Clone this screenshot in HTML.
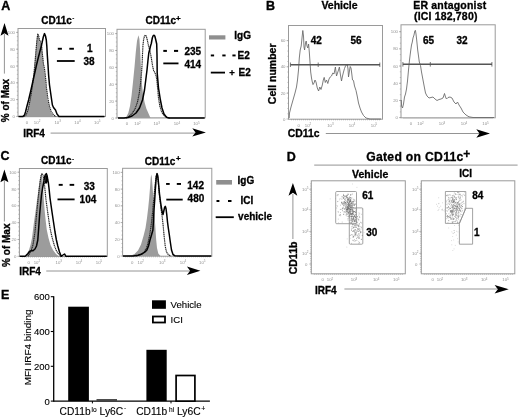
<!DOCTYPE html>
<html><head><meta charset="utf-8"><title>Figure</title>
<style>
html,body{margin:0;padding:0;background:#fff;}
body{width:520px;height:419px;overflow:hidden;}
svg{display:block;font-family:"Liberation Sans", sans-serif;will-change:transform;}
</style></head>
<body>
<svg width="520" height="419" viewBox="0 0 520 419" font-family='"Liberation Sans", sans-serif'>
<rect x="0" y="0" width="520" height="419" fill="#fff"/>
<text x="1.3" y="10.0" font-size="12.5" font-weight="bold" text-anchor="start" fill="#000" stroke="#000" stroke-width="0.35">A</text>
<text x="266.0" y="10.0" font-size="12.5" font-weight="bold" text-anchor="start" fill="#000" stroke="#000" stroke-width="0.35">B</text>
<text x="0.6" y="160.0" font-size="12.5" font-weight="bold" text-anchor="start" fill="#000" stroke="#000" stroke-width="0.35">C</text>
<text x="286.8" y="161.0" font-size="12.5" font-weight="bold" text-anchor="start" fill="#000" stroke="#000" stroke-width="0.35">D</text>
<text x="1.0" y="299.0" font-size="12.5" font-weight="bold" text-anchor="start" fill="#000" stroke="#000" stroke-width="0.35">E</text>
<rect x="18" y="28.5" width="87.5" height="88.0" fill="none" stroke="#9a9a9a" stroke-width="1" />
<line x1="16" y1="116.4" x2="18" y2="116.4" stroke="#909090" stroke-width="0.6" />
<text x="15" y="117.9" font-size="4.3" font-weight="normal" text-anchor="end" fill="#909090" >0</text>
<line x1="16" y1="99.60000000000001" x2="18" y2="99.60000000000001" stroke="#909090" stroke-width="0.6" />
<text x="15" y="101.10000000000001" font-size="4.3" font-weight="normal" text-anchor="end" fill="#909090" >20</text>
<line x1="16" y1="82.80000000000001" x2="18" y2="82.80000000000001" stroke="#909090" stroke-width="0.6" />
<text x="15" y="84.30000000000001" font-size="4.3" font-weight="normal" text-anchor="end" fill="#909090" >40</text>
<line x1="16" y1="66.0" x2="18" y2="66.0" stroke="#909090" stroke-width="0.6" />
<text x="15" y="67.5" font-size="4.3" font-weight="normal" text-anchor="end" fill="#909090" >60</text>
<line x1="16" y1="49.2" x2="18" y2="49.2" stroke="#909090" stroke-width="0.6" />
<text x="15" y="50.7" font-size="4.3" font-weight="normal" text-anchor="end" fill="#909090" >80</text>
<line x1="16" y1="32.400000000000006" x2="18" y2="32.400000000000006" stroke="#909090" stroke-width="0.6" />
<text x="15" y="33.900000000000006" font-size="4.3" font-weight="normal" text-anchor="end" fill="#909090" >100</text>
<path d="M18,32.4h-1.2M18,36.6h-1.2M18,40.8h-1.2M18,45.0h-1.2M18,49.2h-1.2M18,53.4h-1.2M18,57.6h-1.2M18,61.8h-1.2M18,66.0h-1.2M18,70.2h-1.2M18,74.4h-1.2M18,78.6h-1.2M18,82.8h-1.2M18,87.0h-1.2M18,91.2h-1.2M18,95.4h-1.2M18,99.6h-1.2M18,103.8h-1.2M18,108.0h-1.2M18,112.2h-1.2" stroke="#909090" stroke-width="0.5"/>
<text x="26.9" y="124.0" font-size="4.3" font-weight="normal" text-anchor="middle" fill="#909090" >0</text>
<text x="37.1" y="124.0" font-size="4.3" fill="#909090" text-anchor="middle">10<tspan dy="-1.6" font-size="3.01">2</tspan></text>
<text x="57.7" y="124.0" font-size="4.3" fill="#909090" text-anchor="middle">10<tspan dy="-1.6" font-size="3.01">3</tspan></text>
<text x="77.5" y="124.0" font-size="4.3" fill="#909090" text-anchor="middle">10<tspan dy="-1.6" font-size="3.01">4</tspan></text>
<text x="97.3" y="124.0" font-size="4.3" fill="#909090" text-anchor="middle">10<tspan dy="-1.6" font-size="3.01">5</tspan></text>
<path d="M21.0,116.5v1.2M23.0,116.5v1.2M25.0,116.5v1.2M27.0,116.5v1.2M29.0,116.5v1.2M31.0,116.5v1.2M33.0,116.5v1.2M35.0,116.5v1.2M37.0,116.5v1.2M39.0,116.5v1.2M41.0,116.5v1.2M43.0,116.5v1.2M45.0,116.5v1.2M47.0,116.5v1.2M49.0,116.5v1.2M51.0,116.5v1.2M53.0,116.5v1.2M55.0,116.5v1.2M57.0,116.5v1.2M59.0,116.5v1.2M61.0,116.5v1.2M63.0,116.5v1.2M65.0,116.5v1.2M67.0,116.5v1.2M69.0,116.5v1.2M71.0,116.5v1.2M73.0,116.5v1.2M75.0,116.5v1.2M77.0,116.5v1.2M79.0,116.5v1.2M81.0,116.5v1.2M83.0,116.5v1.2M85.0,116.5v1.2M87.0,116.5v1.2M89.0,116.5v1.2M91.0,116.5v1.2M93.0,116.5v1.2M95.0,116.5v1.2M97.0,116.5v1.2M99.0,116.5v1.2M101.0,116.5v1.2M103.0,116.5v1.2" stroke="#909090" stroke-width="0.5"/>
<polygon points="22,116.4 25,115.5 27,112 28.5,106 30,99 31.5,90 33,80 34.2,70 35.2,58 36,48 36.8,40 37.7,33.6 38.6,36 39.4,40 40.2,44 41.0,42.5 41.8,48 42.6,58 43.5,66 44.5,72 45.3,80 46.3,90 47.5,100 49,107 51,112.5 53,115.5 55,116.4" fill="#9c9c9c" stroke="none" stroke-width="1" />
<polyline points="24,116.4 26,115 28,110 29.5,103 31,95 32.5,85 34,73 35.2,60 36.2,48 37,39 37.8,34 38.6,35.5 39.5,40 40.5,41.5 41.5,45 42.5,55 43.5,64 44.7,70 45.6,78 46.5,88 47.8,98 49.3,106 51.2,111.5 53.5,115 56,116.4" fill="none" stroke="#222" stroke-width="1.15" stroke-linejoin="round" stroke-dasharray="1.3,0.55"/>
<polyline points="18.5,116.4 23,116.4 24.5,115 25.5,112 27,106 28.6,100 30.5,92 32.5,83 34.5,74 36.5,65 38.2,58 39.5,53 40.8,48 42,43 43.3,37 44.5,33.6 45.5,36 46.3,40 46.8,46 47.3,55 48,65 48.6,75 49.5,85 50.5,92 51.5,99 52.4,105 53.5,107.5 55.5,110 57,114 59,116.4 104.5,116.4" fill="none" stroke="#000" stroke-width="1.5" stroke-linejoin="round" />
<rect x="57.8" y="47.8" width="4.1" height="1.9" fill="#000" stroke="none" stroke-width="1" />
<rect x="69.3" y="47.8" width="4.6" height="1.9" fill="#000" stroke="none" stroke-width="1" />
<text x="92.5" y="51.5" font-size="10" font-weight="bold" text-anchor="end" fill="#000"  stroke="#000" stroke-width="0.3">1</text>
<line x1="56.9" y1="61" x2="74.7" y2="61" stroke="#000" stroke-width="1.8" />
<text x="94.5" y="65.2" font-size="10" font-weight="bold" text-anchor="end" fill="#000"  stroke="#000" stroke-width="0.3">38</text>
<text x="41.2" y="23.5" font-size="10" font-weight="bold" text-anchor="start" fill="#000"  stroke="#000" stroke-width="0.3">CD11c</text>
<text x="72.6" y="19.8" font-size="5" font-weight="bold" text-anchor="start" fill="#000"  stroke="#000" stroke-width="0.3">-</text>
<rect x="117.0" y="29.3" width="88.19999999999999" height="88.5" fill="none" stroke="#9a9a9a" stroke-width="1" />
<line x1="115.0" y1="118.0" x2="117.0" y2="118.0" stroke="#909090" stroke-width="0.6" />
<text x="114.0" y="119.5" font-size="4.3" font-weight="normal" text-anchor="end" fill="#909090" >0</text>
<line x1="115.0" y1="101.12" x2="117.0" y2="101.12" stroke="#909090" stroke-width="0.6" />
<text x="114.0" y="102.62" font-size="4.3" font-weight="normal" text-anchor="end" fill="#909090" >20</text>
<line x1="115.0" y1="84.24" x2="117.0" y2="84.24" stroke="#909090" stroke-width="0.6" />
<text x="114.0" y="85.74" font-size="4.3" font-weight="normal" text-anchor="end" fill="#909090" >40</text>
<line x1="115.0" y1="67.36" x2="117.0" y2="67.36" stroke="#909090" stroke-width="0.6" />
<text x="114.0" y="68.86" font-size="4.3" font-weight="normal" text-anchor="end" fill="#909090" >60</text>
<line x1="115.0" y1="50.47999999999999" x2="117.0" y2="50.47999999999999" stroke="#909090" stroke-width="0.6" />
<text x="114.0" y="51.97999999999999" font-size="4.3" font-weight="normal" text-anchor="end" fill="#909090" >80</text>
<line x1="115.0" y1="33.599999999999994" x2="117.0" y2="33.599999999999994" stroke="#909090" stroke-width="0.6" />
<text x="114.0" y="35.099999999999994" font-size="4.3" font-weight="normal" text-anchor="end" fill="#909090" >100</text>
<path d="M117.0,33.6h-1.2M117.0,37.8h-1.2M117.0,42.0h-1.2M117.0,46.3h-1.2M117.0,50.5h-1.2M117.0,54.7h-1.2M117.0,58.9h-1.2M117.0,63.1h-1.2M117.0,67.4h-1.2M117.0,71.6h-1.2M117.0,75.8h-1.2M117.0,80.0h-1.2M117.0,84.2h-1.2M117.0,88.5h-1.2M117.0,92.7h-1.2M117.0,96.9h-1.2M117.0,101.1h-1.2M117.0,105.3h-1.2M117.0,109.6h-1.2M117.0,113.8h-1.2M117.0,118.0h-1.2" stroke="#909090" stroke-width="0.5"/>
<text x="127" y="125.3" font-size="4.3" font-weight="normal" text-anchor="middle" fill="#909090" >0</text>
<text x="137.5" y="125.3" font-size="4.3" fill="#909090" text-anchor="middle">10<tspan dy="-1.6" font-size="3.01">2</tspan></text>
<text x="156.7" y="125.3" font-size="4.3" fill="#909090" text-anchor="middle">10<tspan dy="-1.6" font-size="3.01">3</tspan></text>
<text x="176.9" y="125.3" font-size="4.3" fill="#909090" text-anchor="middle">10<tspan dy="-1.6" font-size="3.01">4</tspan></text>
<text x="196.4" y="125.3" font-size="4.3" fill="#909090" text-anchor="middle">10<tspan dy="-1.6" font-size="3.01">5</tspan></text>
<path d="M120.0,117.8v1.2M122.0,117.8v1.2M124.0,117.8v1.2M126.0,117.8v1.2M128.0,117.8v1.2M130.0,117.8v1.2M132.0,117.8v1.2M134.0,117.8v1.2M136.0,117.8v1.2M138.0,117.8v1.2M140.0,117.8v1.2M142.0,117.8v1.2M144.0,117.8v1.2M146.0,117.8v1.2M148.0,117.8v1.2M150.0,117.8v1.2M152.0,117.8v1.2M154.0,117.8v1.2M156.0,117.8v1.2M158.0,117.8v1.2M160.0,117.8v1.2M162.0,117.8v1.2M164.0,117.8v1.2M166.0,117.8v1.2M168.0,117.8v1.2M170.0,117.8v1.2M172.0,117.8v1.2M174.0,117.8v1.2M176.0,117.8v1.2M178.0,117.8v1.2M180.0,117.8v1.2M182.0,117.8v1.2M184.0,117.8v1.2M186.0,117.8v1.2M188.0,117.8v1.2M190.0,117.8v1.2M192.0,117.8v1.2M194.0,117.8v1.2M196.0,117.8v1.2M198.0,117.8v1.2M200.0,117.8v1.2M202.0,117.8v1.2" stroke="#909090" stroke-width="0.5"/>
<polygon points="124,118.0 126.5,116.5 128.3,113 130,106 131.5,96 133,82 134.5,67 135.8,52 137,41 138.4,35.2 139.4,39 140.1,50 140.7,62 141.2,74 141.9,84 143,94 144.5,102 146.3,108.5 148.3,113 150.5,118.0" fill="#9c9c9c" stroke="none" stroke-width="1" />
<polyline points="126,118.0 129,116.5 132,113.5 135,109 137.5,102 139.3,93 140.6,83 141.6,72 142.2,62 142.6,52 143,45 143.6,39.5 144.5,36 145.4,35 146.4,36.5 147.3,40 148.2,44.5 149.3,48.5 150.4,53 151.5,59 152.6,66 153.6,70.5 154.8,72.5 156,75.5 156.9,80 157.6,88 158.5,98 159.8,106 161.5,111.5 163.5,115 167,117.5 170,118.0" fill="none" stroke="#222" stroke-width="1.15" stroke-linejoin="round" stroke-dasharray="1.3,0.55"/>
<polyline points="118,118.0 124,118.0 128,117.5 132,116 136,113 139.5,108 142.5,100 144.5,90 146,78 147,70 148,60 148.8,53 149.7,49.5 150.5,46 151.3,43.5 152.3,38 153,36 153.8,35.2 154.8,36 155.8,40 156.7,44 157,55 157.2,73 158.5,88 160.4,100 162,108 164,114 166.5,117.3 169,118.0 204.7,118.0" fill="none" stroke="#000" stroke-width="1.5" stroke-linejoin="round" />
<rect x="163.3" y="49.9" width="3.6" height="2.0" fill="#000" stroke="none" stroke-width="1" />
<rect x="174.0" y="49.9" width="4.1" height="2.0" fill="#000" stroke="none" stroke-width="1" />
<text x="201.2" y="54.6" font-size="10" font-weight="bold" text-anchor="end" fill="#000"  stroke="#000" stroke-width="0.3">235</text>
<line x1="163.3" y1="63.4" x2="178.5" y2="63.4" stroke="#000" stroke-width="1.8" />
<text x="201.2" y="67.7" font-size="10" font-weight="bold" text-anchor="end" fill="#000"  stroke="#000" stroke-width="0.3">414</text>
<text x="145.5" y="23.5" font-size="10" font-weight="bold" text-anchor="start" fill="#000"  stroke="#000" stroke-width="0.3">CD11c</text>
<text x="176.1" y="20.9" font-size="8" font-weight="bold" text-anchor="start" fill="#000"  stroke="#000" stroke-width="0.3">+</text>
<rect x="209" y="35.3" width="16.4" height="4.2" fill="#8f8f8f" stroke="none" stroke-width="1" />
<text x="234.3" y="39.2" font-size="10" font-weight="bold" text-anchor="start" fill="#000"  stroke="#000" stroke-width="0.3">IgG</text>
<rect x="210.8" y="54.5" width="3.3" height="1.9" fill="#000" stroke="none" stroke-width="1" />
<rect x="222.3" y="54.5" width="3.3" height="1.9" fill="#000" stroke="none" stroke-width="1" />
<rect x="232.4" y="54.5" width="3.2" height="1.9" fill="#000" stroke="none" stroke-width="1" />
<text x="237.5" y="58.8" font-size="10" font-weight="bold" text-anchor="start" fill="#000"  stroke="#000" stroke-width="0.3">E2</text>
<line x1="210.8" y1="72.6" x2="225" y2="72.6" stroke="#000" stroke-width="1.8" />
<text x="229.2" y="76.2" font-size="9.5" font-weight="bold" text-anchor="start" fill="#000"  stroke="#000" stroke-width="0.3">+</text>
<text x="238.6" y="76.2" font-size="10" font-weight="bold" text-anchor="start" fill="#000"  stroke="#000" stroke-width="0.3">E2</text>
<polygon points="4.5,22.9 0.5,35.8 4.5,33.199999999999996 8.5,35.8" fill="#000" stroke="none" stroke-width="1" />
<line x1="4.4" y1="34" x2="4.4" y2="73.6" stroke="#888" stroke-width="0.9" />
<text x="0" y="0" font-size="10" font-weight="bold" text-anchor="start" fill="#000" transform="translate(9.3,122.2) rotate(-90)" stroke="#000" stroke-width="0.3">% of Max</text>
<text x="23.2" y="137.0" font-size="10" font-weight="bold" text-anchor="start" fill="#000"  stroke="#000" stroke-width="0.3">IRF4</text>
<line x1="50.6" y1="133.1" x2="195" y2="133.1" stroke="#888" stroke-width="0.9" />
<polygon points="205.9,132.4 192.3,128.3 195.5,132.4 192.3,136.5" fill="#000" stroke="none" stroke-width="1" />
<rect x="288.5" y="25.5" width="94.0" height="93.7" fill="none" stroke="#9a9a9a" stroke-width="1" />
<line x1="286.5" y1="119.0" x2="288.5" y2="119.0" stroke="#909090" stroke-width="0.6" />
<text x="285.5" y="120.5" font-size="4.3" font-weight="normal" text-anchor="end" fill="#909090" >0</text>
<line x1="286.5" y1="93.2" x2="288.5" y2="93.2" stroke="#909090" stroke-width="0.6" />
<text x="285.5" y="94.7" font-size="4.3" font-weight="normal" text-anchor="end" fill="#909090" >20</text>
<line x1="286.5" y1="66.8" x2="288.5" y2="66.8" stroke="#909090" stroke-width="0.6" />
<text x="285.5" y="68.3" font-size="4.3" font-weight="normal" text-anchor="end" fill="#909090" >40</text>
<line x1="286.5" y1="40.6" x2="288.5" y2="40.6" stroke="#909090" stroke-width="0.6" />
<text x="285.5" y="42.1" font-size="4.3" font-weight="normal" text-anchor="end" fill="#909090" >60</text>
<path d="M288.5,40.6h-1.2M288.5,45.8h-1.2M288.5,51.1h-1.2M288.5,56.3h-1.2M288.5,61.5h-1.2M288.5,66.7h-1.2M288.5,72.0h-1.2M288.5,77.2h-1.2M288.5,82.4h-1.2M288.5,87.6h-1.2M288.5,92.9h-1.2M288.5,98.1h-1.2M288.5,103.3h-1.2M288.5,108.5h-1.2M288.5,113.8h-1.2" stroke="#909090" stroke-width="0.5"/>
<text x="298.8" y="126.7" font-size="4.3" font-weight="normal" text-anchor="middle" fill="#909090" >0</text>
<text x="308" y="126.7" font-size="4.3" fill="#909090" text-anchor="middle">10<tspan dy="-1.6" font-size="3.01">2</tspan></text>
<text x="330.4" y="126.7" font-size="4.3" fill="#909090" text-anchor="middle">10<tspan dy="-1.6" font-size="3.01">3</tspan></text>
<text x="352" y="126.7" font-size="4.3" fill="#909090" text-anchor="middle">10<tspan dy="-1.6" font-size="3.01">4</tspan></text>
<text x="374" y="126.7" font-size="4.3" fill="#909090" text-anchor="middle">10<tspan dy="-1.6" font-size="3.01">5</tspan></text>
<path d="M291.5,119.2v1.2M293.5,119.2v1.2M295.5,119.2v1.2M297.5,119.2v1.2M299.5,119.2v1.2M301.5,119.2v1.2M303.5,119.2v1.2M305.5,119.2v1.2M307.5,119.2v1.2M309.5,119.2v1.2M311.5,119.2v1.2M313.5,119.2v1.2M315.5,119.2v1.2M317.5,119.2v1.2M319.5,119.2v1.2M321.5,119.2v1.2M323.5,119.2v1.2M325.5,119.2v1.2M327.5,119.2v1.2M329.5,119.2v1.2M331.5,119.2v1.2M333.5,119.2v1.2M335.5,119.2v1.2M337.5,119.2v1.2M339.5,119.2v1.2M341.5,119.2v1.2M343.5,119.2v1.2M345.5,119.2v1.2M347.5,119.2v1.2M349.5,119.2v1.2M351.5,119.2v1.2M353.5,119.2v1.2M355.5,119.2v1.2M357.5,119.2v1.2M359.5,119.2v1.2M361.5,119.2v1.2M363.5,119.2v1.2M365.5,119.2v1.2M367.5,119.2v1.2M369.5,119.2v1.2M371.5,119.2v1.2M373.5,119.2v1.2M375.5,119.2v1.2M377.5,119.2v1.2M379.5,119.2v1.2" stroke="#909090" stroke-width="0.5"/>
<polyline points="289.2,118 289.5,113 291,107 293,100 295,93 296.5,87 297.5,80 298.5,70 299.3,58 300.2,50 301.2,46 302,38 302.8,30.5 303.5,36 304,47 304.6,50 305.5,43 306.2,41 307,46 307.8,48 308.6,44 309.3,52 310,62 310.7,72 311.5,78 312.3,82 313,84.6 314,83 315,80 316,82 317.3,88 318.6,91 319.8,87 321,89.5 322.3,85 323.3,80 324.2,77.4 325.3,82.5 326.5,80 327.8,83.5 329,79 330.2,77 331.5,76 332.8,73 334,74 335.4,67 336.5,76 337.5,73 338.5,70 339.4,67 340.3,74 341.5,81 342.5,76 343.5,72 344.5,68.5 345.5,66 346.5,64.8 347.3,64.5 348,69 348.5,77 349.3,72 350.2,66.5 351,68 351.8,74 352.5,80 353.5,80.5 354.5,86 356,90.5 357.2,96 358.5,103 360,108 361.5,112 363.5,115.5 366,118 370,119 381,119" fill="none" stroke="#666" stroke-width="0.85" stroke-linejoin="round" />
<line x1="290.4" y1="64.8" x2="380" y2="64.8" stroke="#555" stroke-width="1.6" />
<line x1="290.4" y1="62.5" x2="290.4" y2="67" stroke="#555" stroke-width="0.8" />
<line x1="318.2" y1="62.5" x2="318.2" y2="67" stroke="#555" stroke-width="0.8" />
<line x1="379.8" y1="62.5" x2="379.8" y2="67" stroke="#555" stroke-width="0.8" />
<text x="321.9" y="43.9" font-size="10" font-weight="bold" text-anchor="end" fill="#000"  stroke="#000" stroke-width="0.3">42</text>
<text x="361.6" y="44.0" font-size="10" font-weight="bold" text-anchor="end" fill="#000"  stroke="#000" stroke-width="0.3">56</text>
<text x="339.5" y="9" font-size="10.5" font-weight="bold" text-anchor="middle" fill="#000"  stroke="#000" stroke-width="0.3">Vehicle</text>
<rect x="401" y="24.8" width="94.19999999999999" height="93.0" fill="none" stroke="#9a9a9a" stroke-width="1" />
<line x1="399" y1="117.6" x2="401" y2="117.6" stroke="#909090" stroke-width="0.6" />
<text x="398" y="119.1" font-size="4.3" font-weight="normal" text-anchor="end" fill="#909090" >0</text>
<line x1="399" y1="100.5" x2="401" y2="100.5" stroke="#909090" stroke-width="0.6" />
<text x="398" y="102.0" font-size="4.3" font-weight="normal" text-anchor="end" fill="#909090" >20</text>
<line x1="399" y1="83.3" x2="401" y2="83.3" stroke="#909090" stroke-width="0.6" />
<text x="398" y="84.8" font-size="4.3" font-weight="normal" text-anchor="end" fill="#909090" >40</text>
<line x1="399" y1="66.0" x2="401" y2="66.0" stroke="#909090" stroke-width="0.6" />
<text x="398" y="67.5" font-size="4.3" font-weight="normal" text-anchor="end" fill="#909090" >60</text>
<line x1="399" y1="48.8" x2="401" y2="48.8" stroke="#909090" stroke-width="0.6" />
<text x="398" y="50.3" font-size="4.3" font-weight="normal" text-anchor="end" fill="#909090" >80</text>
<line x1="399" y1="31.7" x2="401" y2="31.7" stroke="#909090" stroke-width="0.6" />
<text x="398" y="33.2" font-size="4.3" font-weight="normal" text-anchor="end" fill="#909090" >100</text>
<path d="M401,31.7h-1.2M401,37.4h-1.2M401,43.2h-1.2M401,48.9h-1.2M401,54.6h-1.2M401,60.3h-1.2M401,66.1h-1.2M401,71.8h-1.2M401,77.5h-1.2M401,83.2h-1.2M401,89.0h-1.2M401,94.7h-1.2M401,100.4h-1.2M401,106.1h-1.2M401,111.9h-1.2M401,117.6h-1.2" stroke="#909090" stroke-width="0.5"/>
<text x="411" y="125.3" font-size="4.3" font-weight="normal" text-anchor="middle" fill="#909090" >0</text>
<text x="420.5" y="125.3" font-size="4.3" fill="#909090" text-anchor="middle">10<tspan dy="-1.6" font-size="3.01">2</tspan></text>
<text x="442" y="125.3" font-size="4.3" fill="#909090" text-anchor="middle">10<tspan dy="-1.6" font-size="3.01">3</tspan></text>
<text x="464" y="125.3" font-size="4.3" fill="#909090" text-anchor="middle">10<tspan dy="-1.6" font-size="3.01">4</tspan></text>
<text x="485.5" y="125.3" font-size="4.3" fill="#909090" text-anchor="middle">10<tspan dy="-1.6" font-size="3.01">5</tspan></text>
<path d="M404.0,117.8v1.2M406.0,117.8v1.2M408.0,117.8v1.2M410.0,117.8v1.2M412.0,117.8v1.2M414.0,117.8v1.2M416.0,117.8v1.2M418.0,117.8v1.2M420.0,117.8v1.2M422.0,117.8v1.2M424.0,117.8v1.2M426.0,117.8v1.2M428.0,117.8v1.2M430.0,117.8v1.2M432.0,117.8v1.2M434.0,117.8v1.2M436.0,117.8v1.2M438.0,117.8v1.2M440.0,117.8v1.2M442.0,117.8v1.2M444.0,117.8v1.2M446.0,117.8v1.2M448.0,117.8v1.2M450.0,117.8v1.2M452.0,117.8v1.2M454.0,117.8v1.2M456.0,117.8v1.2M458.0,117.8v1.2M460.0,117.8v1.2M462.0,117.8v1.2M464.0,117.8v1.2M466.0,117.8v1.2M468.0,117.8v1.2M470.0,117.8v1.2M472.0,117.8v1.2M474.0,117.8v1.2M476.0,117.8v1.2M478.0,117.8v1.2M480.0,117.8v1.2M482.0,117.8v1.2M484.0,117.8v1.2M486.0,117.8v1.2M488.0,117.8v1.2M490.0,117.8v1.2M492.0,117.8v1.2" stroke="#909090" stroke-width="0.5"/>
<polyline points="401.3,100 401.6,106 402.5,108 403.5,104 404.5,97 405.5,94 406.5,89 407.5,81 408.5,70 409.5,60 410.5,52 411.5,45 412.3,42 413,38 414,35 414.8,31 415.4,30.3 416,34 416.7,40 417.7,50 418.5,56 419.3,62 420.5,65.5 421.5,72 423,80 424.5,88 425.5,93 427,96 429,98 431,97.5 433,97 435,99 437,100.5 439,99.5 441,99 443,98 444.5,93.5 445.5,97 446.5,99 448,97.5 450,97 452,98 454,102 456,104 457.5,102 459,105 461,108 463,112 466,115 469,116.8 473,117.5 494,117.5" fill="none" stroke="#666" stroke-width="0.85" stroke-linejoin="round" />
<line x1="402.9" y1="64.3" x2="492" y2="64.3" stroke="#555" stroke-width="1.6" />
<line x1="402.9" y1="62" x2="402.9" y2="66.6" stroke="#555" stroke-width="0.8" />
<line x1="430.3" y1="62" x2="430.3" y2="66.6" stroke="#555" stroke-width="0.8" />
<line x1="491.9" y1="62" x2="491.9" y2="66.6" stroke="#555" stroke-width="0.8" />
<text x="434.2" y="43.9" font-size="10" font-weight="bold" text-anchor="end" fill="#000"  stroke="#000" stroke-width="0.3">65</text>
<text x="467.5" y="44.0" font-size="10" font-weight="bold" text-anchor="end" fill="#000"  stroke="#000" stroke-width="0.3">32</text>
<text x="413.2" y="9" font-size="10.5" font-weight="bold" text-anchor="start" fill="#000" textLength="73" lengthAdjust="spacing" stroke="#000" stroke-width="0.3">ER antagonist</text>
<text x="414.0" y="20.2" font-size="10.5" font-weight="bold" text-anchor="start" fill="#000" textLength="63.4" lengthAdjust="spacing" stroke="#000" stroke-width="0.3">(ICI 182,780)</text>
<text x="0" y="0" font-size="10.5" font-weight="bold" text-anchor="start" fill="#000" transform="translate(275.5,104.2) rotate(-90)" stroke="#000" stroke-width="0.3">Cell number</text>
<text x="287.8" y="137.4" font-size="10.4" font-weight="bold" text-anchor="start" fill="#000"  stroke="#000" stroke-width="0.3">CD11c</text>
<line x1="325.8" y1="133.5" x2="480" y2="133.5" stroke="#888" stroke-width="0.9" />
<polygon points="490,133.5 476.3,129.2 479.5,133.5 476.3,137.8" fill="#000" stroke="none" stroke-width="1" />
<rect x="19.4" y="168.5" width="87.9" height="88.0" fill="none" stroke="#9a9a9a" stroke-width="1" />
<line x1="17.4" y1="256.3" x2="19.4" y2="256.3" stroke="#909090" stroke-width="0.6" />
<text x="16.4" y="257.8" font-size="4.3" font-weight="normal" text-anchor="end" fill="#909090" >0</text>
<line x1="17.4" y1="239.48000000000002" x2="19.4" y2="239.48000000000002" stroke="#909090" stroke-width="0.6" />
<text x="16.4" y="240.98000000000002" font-size="4.3" font-weight="normal" text-anchor="end" fill="#909090" >20</text>
<line x1="17.4" y1="222.66" x2="19.4" y2="222.66" stroke="#909090" stroke-width="0.6" />
<text x="16.4" y="224.16" font-size="4.3" font-weight="normal" text-anchor="end" fill="#909090" >40</text>
<line x1="17.4" y1="205.84" x2="19.4" y2="205.84" stroke="#909090" stroke-width="0.6" />
<text x="16.4" y="207.34" font-size="4.3" font-weight="normal" text-anchor="end" fill="#909090" >60</text>
<line x1="17.4" y1="189.01999999999998" x2="19.4" y2="189.01999999999998" stroke="#909090" stroke-width="0.6" />
<text x="16.4" y="190.51999999999998" font-size="4.3" font-weight="normal" text-anchor="end" fill="#909090" >80</text>
<line x1="17.4" y1="172.2" x2="19.4" y2="172.2" stroke="#909090" stroke-width="0.6" />
<text x="16.4" y="173.7" font-size="4.3" font-weight="normal" text-anchor="end" fill="#909090" >100</text>
<path d="M19.4,172.2h-1.2M19.4,176.4h-1.2M19.4,180.6h-1.2M19.4,184.8h-1.2M19.4,189.0h-1.2M19.4,193.2h-1.2M19.4,197.4h-1.2M19.4,201.6h-1.2M19.4,205.8h-1.2M19.4,210.0h-1.2M19.4,214.3h-1.2M19.4,218.5h-1.2M19.4,222.7h-1.2M19.4,226.9h-1.2M19.4,231.1h-1.2M19.4,235.3h-1.2M19.4,239.5h-1.2M19.4,243.7h-1.2M19.4,247.9h-1.2M19.4,252.1h-1.2" stroke="#909090" stroke-width="0.5"/>
<text x="28.75" y="264.0" font-size="4.3" font-weight="normal" text-anchor="middle" fill="#909090" >0</text>
<text x="36.9" y="264.0" font-size="4.3" fill="#909090" text-anchor="middle">10<tspan dy="-1.6" font-size="3.01">2</tspan></text>
<text x="58.75" y="264.0" font-size="4.3" fill="#909090" text-anchor="middle">10<tspan dy="-1.6" font-size="3.01">3</tspan></text>
<text x="79" y="264.0" font-size="4.3" fill="#909090" text-anchor="middle">10<tspan dy="-1.6" font-size="3.01">4</tspan></text>
<text x="99" y="264.0" font-size="4.3" fill="#909090" text-anchor="middle">10<tspan dy="-1.6" font-size="3.01">5</tspan></text>
<path d="M22.4,256.5v1.2M24.4,256.5v1.2M26.4,256.5v1.2M28.4,256.5v1.2M30.4,256.5v1.2M32.4,256.5v1.2M34.4,256.5v1.2M36.4,256.5v1.2M38.4,256.5v1.2M40.4,256.5v1.2M42.4,256.5v1.2M44.4,256.5v1.2M46.4,256.5v1.2M48.4,256.5v1.2M50.4,256.5v1.2M52.4,256.5v1.2M54.4,256.5v1.2M56.4,256.5v1.2M58.4,256.5v1.2M60.4,256.5v1.2M62.4,256.5v1.2M64.4,256.5v1.2M66.4,256.5v1.2M68.4,256.5v1.2M70.4,256.5v1.2M72.4,256.5v1.2M74.4,256.5v1.2M76.4,256.5v1.2M78.4,256.5v1.2M80.4,256.5v1.2M82.4,256.5v1.2M84.4,256.5v1.2M86.4,256.5v1.2M88.4,256.5v1.2M90.4,256.5v1.2M92.4,256.5v1.2M94.4,256.5v1.2M96.4,256.5v1.2M98.4,256.5v1.2M100.4,256.5v1.2M102.4,256.5v1.2M104.4,256.5v1.2" stroke="#909090" stroke-width="0.5"/>
<polygon points="24.5,256.3 27,254 29,250 30.5,245 32,238 33,230 34,222 35,215 36,208 37,200 38,193 39,186 40,180 40.8,176 41.5,173.6 42.2,176 42.7,182 43.2,190 43.8,200 44.6,210 45.6,220 46.8,230 48.5,238 50.5,245 53,250 56,254 59,256.3" fill="#9c9c9c" stroke="none" stroke-width="1" />
<polyline points="28,256.3 31,251 33,245 35,232 36.5,215 38,200 39.3,188 40.3,180 41.2,175 42.1,173.4 43,175 44,180 45,190 46,200 47.4,210 48.8,220 50,228 51.5,235 52.8,240 54.5,246 56.5,251 58.5,254 61,256.3" fill="none" stroke="#222" stroke-width="1.15" stroke-linejoin="round" stroke-dasharray="1.3,0.55"/>
<polyline points="19.8,256.3 25,256.3 26,255.5 28,253.5 29.5,251.5 31.3,250.6 33,250.8 35,249 36.5,246 37.8,240 38.7,228 39.6,215 40.5,205 41.5,195 42.6,188 43.6,183 44.4,178 45.2,175 46.3,173.6 47.2,176 47.8,180 48.4,183 49.2,190 50,198 51,205 52,212 53.5,222 55,232 56.4,240 57.8,246 59.5,252 61.2,256.3 63,255 64.5,254 66,256.3 106.8,256.3" fill="none" stroke="#000" stroke-width="1.5" stroke-linejoin="round" />
<polyline points="45.3,176 46.3,176 47.2,181 46,183 45,182" fill="#000" stroke="#000" stroke-width="1.5" stroke-linejoin="round" />
<rect x="58.7" y="183.9" width="4.0" height="1.9" fill="#000" stroke="none" stroke-width="1" />
<rect x="69.6" y="183.9" width="4.6" height="1.9" fill="#000" stroke="none" stroke-width="1" />
<text x="94.9" y="189.8" font-size="10" font-weight="bold" text-anchor="end" fill="#000"  stroke="#000" stroke-width="0.3">33</text>
<line x1="57.5" y1="199.4" x2="74.6" y2="199.4" stroke="#000" stroke-width="1.8" />
<text x="96.3" y="202.5" font-size="10" font-weight="bold" text-anchor="end" fill="#000"  stroke="#000" stroke-width="0.3">104</text>
<text x="41.0" y="164.4" font-size="10" font-weight="bold" text-anchor="start" fill="#000"  stroke="#000" stroke-width="0.3">CD11c</text>
<text x="72.3" y="160.6" font-size="5" font-weight="bold" text-anchor="start" fill="#000"  stroke="#000" stroke-width="0.3">-</text>
<rect x="122.6" y="168.3" width="89.20000000000002" height="87.89999999999998" fill="none" stroke="#9a9a9a" stroke-width="1" />
<line x1="120.6" y1="256.0" x2="122.6" y2="256.0" stroke="#909090" stroke-width="0.6" />
<text x="119.6" y="257.5" font-size="4.3" font-weight="normal" text-anchor="end" fill="#909090" >0</text>
<line x1="120.6" y1="239.28" x2="122.6" y2="239.28" stroke="#909090" stroke-width="0.6" />
<text x="119.6" y="240.78" font-size="4.3" font-weight="normal" text-anchor="end" fill="#909090" >20</text>
<line x1="120.6" y1="222.56" x2="122.6" y2="222.56" stroke="#909090" stroke-width="0.6" />
<text x="119.6" y="224.06" font-size="4.3" font-weight="normal" text-anchor="end" fill="#909090" >40</text>
<line x1="120.6" y1="205.84" x2="122.6" y2="205.84" stroke="#909090" stroke-width="0.6" />
<text x="119.6" y="207.34" font-size="4.3" font-weight="normal" text-anchor="end" fill="#909090" >60</text>
<line x1="120.6" y1="189.12" x2="122.6" y2="189.12" stroke="#909090" stroke-width="0.6" />
<text x="119.6" y="190.62" font-size="4.3" font-weight="normal" text-anchor="end" fill="#909090" >80</text>
<line x1="120.6" y1="172.4" x2="122.6" y2="172.4" stroke="#909090" stroke-width="0.6" />
<text x="119.6" y="173.9" font-size="4.3" font-weight="normal" text-anchor="end" fill="#909090" >100</text>
<path d="M122.6,172.4h-1.2M122.6,176.6h-1.2M122.6,180.8h-1.2M122.6,184.9h-1.2M122.6,189.1h-1.2M122.6,193.3h-1.2M122.6,197.5h-1.2M122.6,201.7h-1.2M122.6,205.8h-1.2M122.6,210.0h-1.2M122.6,214.2h-1.2M122.6,218.4h-1.2M122.6,222.6h-1.2M122.6,226.7h-1.2M122.6,230.9h-1.2M122.6,235.1h-1.2M122.6,239.3h-1.2M122.6,243.5h-1.2M122.6,247.6h-1.2M122.6,251.8h-1.2" stroke="#909090" stroke-width="0.5"/>
<text x="132.1" y="263.7" font-size="4.3" font-weight="normal" text-anchor="middle" fill="#909090" >0</text>
<text x="140.8" y="263.7" font-size="4.3" fill="#909090" text-anchor="middle">10<tspan dy="-1.6" font-size="3.01">2</tspan></text>
<text x="162.3" y="263.7" font-size="4.3" fill="#909090" text-anchor="middle">10<tspan dy="-1.6" font-size="3.01">3</tspan></text>
<text x="183" y="263.7" font-size="4.3" fill="#909090" text-anchor="middle">10<tspan dy="-1.6" font-size="3.01">4</tspan></text>
<text x="202.3" y="263.7" font-size="4.3" fill="#909090" text-anchor="middle">10<tspan dy="-1.6" font-size="3.01">5</tspan></text>
<path d="M125.6,256.2v1.2M127.6,256.2v1.2M129.6,256.2v1.2M131.6,256.2v1.2M133.6,256.2v1.2M135.6,256.2v1.2M137.6,256.2v1.2M139.6,256.2v1.2M141.6,256.2v1.2M143.6,256.2v1.2M145.6,256.2v1.2M147.6,256.2v1.2M149.6,256.2v1.2M151.6,256.2v1.2M153.6,256.2v1.2M155.6,256.2v1.2M157.6,256.2v1.2M159.6,256.2v1.2M161.6,256.2v1.2M163.6,256.2v1.2M165.6,256.2v1.2M167.6,256.2v1.2M169.6,256.2v1.2M171.6,256.2v1.2M173.6,256.2v1.2M175.6,256.2v1.2M177.6,256.2v1.2M179.6,256.2v1.2M181.6,256.2v1.2M183.6,256.2v1.2M185.6,256.2v1.2M187.6,256.2v1.2M189.6,256.2v1.2M191.6,256.2v1.2M193.6,256.2v1.2M195.6,256.2v1.2M197.6,256.2v1.2M199.6,256.2v1.2M201.6,256.2v1.2M203.6,256.2v1.2M205.6,256.2v1.2M207.6,256.2v1.2M209.6,256.2v1.2" stroke="#909090" stroke-width="0.5"/>
<polygon points="126,256.0 131,255.5 134.5,254 138,250.5 141,244.5 143.5,236 145.5,228 147,218 148.2,208 149.2,198 150,188 150.7,178 151.2,174.5 151.8,177 152.5,186 153.2,196 153.9,206 154.6,216 155.4,228 156.2,240 157,248 158.3,253.5 160.5,256.0" fill="#9c9c9c" stroke="none" stroke-width="1" />
<polyline points="136,256.0 141,254.5 144.5,251.5 146.5,248 148,243 149.5,236 150.8,228 151.8,220 152.6,212 153.4,203 154.3,193 155.2,184 156.1,177 156.9,173.6 157.7,177 158.5,185 159.4,195 160.3,203 161.2,210 162.2,217 163.2,226 164.2,237 165.2,246 166.5,252 168.5,255 171,256.0" fill="none" stroke="#222" stroke-width="1.15" stroke-linejoin="round" stroke-dasharray="1.3,0.55"/>
<polyline points="123,256.0 133,256.0 138,255.3 142,254 145,252 146.9,250 148.5,246 150,240 151.5,235 152.9,230 153.5,220 154,210 154.7,200 155.3,190 155.9,182 156.4,176 157.1,173.6 157.8,176 158.6,184 159.5,194 160.4,201 161.3,207 162.2,212 163,214.5 163.8,211 164.6,207.5 165.3,206.3 166,208.5 166.7,214 167.5,222 168.3,228 169.2,234 170.3,242 171.5,250 173,254.5 175,255.8 180,256.0 211.3,256.0" fill="none" stroke="#000" stroke-width="1.5" stroke-linejoin="round" />
<rect x="166.1" y="183.0" width="3.6" height="1.9" fill="#000" stroke="none" stroke-width="1" />
<rect x="176.8" y="183.0" width="4.2" height="1.9" fill="#000" stroke="none" stroke-width="1" />
<text x="204" y="188.5" font-size="10" font-weight="bold" text-anchor="end" fill="#000"  stroke="#000" stroke-width="0.3">142</text>
<line x1="166.3" y1="199.6" x2="182.7" y2="199.6" stroke="#000" stroke-width="1.8" />
<text x="204.3" y="202.3" font-size="10" font-weight="bold" text-anchor="end" fill="#000"  stroke="#000" stroke-width="0.3">480</text>
<text x="144.8" y="164.5" font-size="10" font-weight="bold" text-anchor="start" fill="#000"  stroke="#000" stroke-width="0.3">CD11c</text>
<text x="176.1" y="161.3" font-size="8" font-weight="bold" text-anchor="start" fill="#000"  stroke="#000" stroke-width="0.3">+</text>
<rect x="216.2" y="180.0" width="15.8" height="4.6" fill="#8f8f8f" stroke="none" stroke-width="1" />
<text x="237.5" y="183.8" font-size="10" font-weight="bold" text-anchor="start" fill="#000"  stroke="#000" stroke-width="0.3">IgG</text>
<rect x="216.5" y="200.0" width="2.9" height="2" fill="#000" stroke="none" stroke-width="1" />
<rect x="228" y="200.0" width="3.5" height="2" fill="#000" stroke="none" stroke-width="1" />
<text x="240.5" y="203.8" font-size="10" font-weight="bold" text-anchor="start" fill="#000"  stroke="#000" stroke-width="0.3">ICI</text>
<line x1="215.7" y1="217.2" x2="233.8" y2="217.2" stroke="#000" stroke-width="1.8" />
<text x="238.1" y="219.8" font-size="10" font-weight="bold" text-anchor="start" fill="#000"  stroke="#000" stroke-width="0.3">vehicle</text>
<polygon points="4.4,169.4 0.40000000000000036,182.3 4.4,180.0 8.4,182.3" fill="#000" stroke="none" stroke-width="1" />
<line x1="4.4" y1="180" x2="4.4" y2="221.5" stroke="#888" stroke-width="0.9" />
<text x="0" y="0" font-size="10" font-weight="bold" text-anchor="start" fill="#000" transform="translate(9.5,266.9) rotate(-90)" stroke="#000" stroke-width="0.3">% of Max</text>
<text x="19.2" y="274.8" font-size="10" font-weight="bold" text-anchor="start" fill="#000"  stroke="#000" stroke-width="0.3">IRF4</text>
<line x1="46.25" y1="271.0" x2="190" y2="271.0" stroke="#888" stroke-width="0.9" />
<polygon points="200.4,270.8 186.9,266.5 190.1,270.8 186.9,275.1" fill="#000" stroke="none" stroke-width="1" />
<text x="366.2" y="161.0" font-size="12.2" font-weight="bold" text-anchor="start" fill="#000" textLength="97.2" lengthAdjust="spacing" stroke="#000" stroke-width="0.3">Gated on CD11c</text>
<text x="463.3" y="158.0" font-size="12" font-weight="bold" text-anchor="start" fill="#000"  stroke="#000" stroke-width="0.3">+</text>
<line x1="314.2" y1="165.1" x2="517.6" y2="165.1" stroke="#888" stroke-width="0.9" />
<text x="370.2" y="178.1" font-size="10.5" font-weight="bold" text-anchor="middle" fill="#000"  stroke="#000" stroke-width="0.3">Vehicle</text>
<text x="465.6" y="177.4" font-size="10" font-weight="bold" text-anchor="middle" fill="#000"  stroke="#000" stroke-width="0.3">ICI</text>
<rect x="311.3" y="180.8" width="94.0" height="93.0" fill="none" stroke="#9a9a9a" stroke-width="1" />
<line x1="309.3" y1="189.3" x2="311.3" y2="189.3" stroke="#909090" stroke-width="0.6" />
<text x="305.3" y="190.8" font-size="4.3" fill="#909090" text-anchor="middle">10<tspan dy="-1.6" font-size="3.01">5</tspan></text>
<line x1="309.3" y1="209.7" x2="311.3" y2="209.7" stroke="#909090" stroke-width="0.6" />
<text x="305.3" y="211.2" font-size="4.3" fill="#909090" text-anchor="middle">10<tspan dy="-1.6" font-size="3.01">4</tspan></text>
<line x1="309.3" y1="231.6" x2="311.3" y2="231.6" stroke="#909090" stroke-width="0.6" />
<text x="305.3" y="233.1" font-size="4.3" fill="#909090" text-anchor="middle">10<tspan dy="-1.6" font-size="3.01">3</tspan></text>
<line x1="309.3" y1="253.4" x2="311.3" y2="253.4" stroke="#909090" stroke-width="0.6" />
<text x="305.3" y="254.9" font-size="4.3" fill="#909090" text-anchor="middle">10<tspan dy="-1.6" font-size="3.01">2</tspan></text>
<line x1="309.3" y1="264" x2="311.3" y2="264" stroke="#909090" stroke-width="0.6" />
<text x="307.3" y="265.5" font-size="4.3" font-weight="normal" text-anchor="end" fill="#909090" >0</text>
<path d="M311.3,183.8h-1.2M311.3,186.0h-1.2M311.3,188.2h-1.2M311.3,190.4h-1.2M311.3,192.6h-1.2M311.3,194.8h-1.2M311.3,197.0h-1.2M311.3,199.2h-1.2M311.3,201.4h-1.2M311.3,203.6h-1.2M311.3,205.8h-1.2M311.3,208.0h-1.2M311.3,210.2h-1.2M311.3,212.4h-1.2M311.3,214.6h-1.2M311.3,216.8h-1.2M311.3,219.0h-1.2M311.3,221.2h-1.2M311.3,223.4h-1.2M311.3,225.6h-1.2M311.3,227.8h-1.2M311.3,230.0h-1.2M311.3,232.2h-1.2M311.3,234.4h-1.2M311.3,236.6h-1.2M311.3,238.8h-1.2M311.3,241.0h-1.2M311.3,243.2h-1.2M311.3,245.4h-1.2M311.3,247.6h-1.2M311.3,249.8h-1.2M311.3,252.0h-1.2M311.3,254.2h-1.2M311.3,256.4h-1.2M311.3,258.6h-1.2M311.3,260.8h-1.2M311.3,263.0h-1.2M311.3,265.2h-1.2M311.3,267.4h-1.2M311.3,269.6h-1.2M311.3,271.8h-1.2" stroke="#909090" stroke-width="0.5"/>
<text x="322.6" y="281.3" font-size="4.3" font-weight="normal" text-anchor="middle" fill="#909090" >0</text>
<text x="330" y="281.3" font-size="4.3" fill="#909090" text-anchor="middle">10<tspan dy="-1.6" font-size="3.01">2</tspan></text>
<text x="354" y="281.3" font-size="4.3" fill="#909090" text-anchor="middle">10<tspan dy="-1.6" font-size="3.01">3</tspan></text>
<text x="376.2" y="281.3" font-size="4.3" fill="#909090" text-anchor="middle">10<tspan dy="-1.6" font-size="3.01">4</tspan></text>
<text x="396.3" y="281.3" font-size="4.3" fill="#909090" text-anchor="middle">10<tspan dy="-1.6" font-size="3.01">5</tspan></text>
<path d="M314.3,273.8v1.2M316.3,273.8v1.2M318.3,273.8v1.2M320.3,273.8v1.2M322.3,273.8v1.2M324.3,273.8v1.2M326.3,273.8v1.2M328.3,273.8v1.2M330.3,273.8v1.2M332.3,273.8v1.2M334.3,273.8v1.2M336.3,273.8v1.2M338.3,273.8v1.2M340.3,273.8v1.2M342.3,273.8v1.2M344.3,273.8v1.2M346.3,273.8v1.2M348.3,273.8v1.2M350.3,273.8v1.2M352.3,273.8v1.2M354.3,273.8v1.2M356.3,273.8v1.2M358.3,273.8v1.2M360.3,273.8v1.2M362.3,273.8v1.2M364.3,273.8v1.2M366.3,273.8v1.2M368.3,273.8v1.2M370.3,273.8v1.2M372.3,273.8v1.2M374.3,273.8v1.2M376.3,273.8v1.2M378.3,273.8v1.2M380.3,273.8v1.2M382.3,273.8v1.2M384.3,273.8v1.2M386.3,273.8v1.2M388.3,273.8v1.2M390.3,273.8v1.2M392.3,273.8v1.2M394.3,273.8v1.2M396.3,273.8v1.2M398.3,273.8v1.2M400.3,273.8v1.2M402.3,273.8v1.2" stroke="#909090" stroke-width="0.5"/>
<rect x="421.3" y="180.8" width="93.49999999999994" height="93.0" fill="none" stroke="#9a9a9a" stroke-width="1" />
<line x1="419.3" y1="189.3" x2="421.3" y2="189.3" stroke="#909090" stroke-width="0.6" />
<text x="415.3" y="190.8" font-size="4.3" fill="#909090" text-anchor="middle">10<tspan dy="-1.6" font-size="3.01">5</tspan></text>
<line x1="419.3" y1="209.7" x2="421.3" y2="209.7" stroke="#909090" stroke-width="0.6" />
<text x="415.3" y="211.2" font-size="4.3" fill="#909090" text-anchor="middle">10<tspan dy="-1.6" font-size="3.01">4</tspan></text>
<line x1="419.3" y1="231.6" x2="421.3" y2="231.6" stroke="#909090" stroke-width="0.6" />
<text x="415.3" y="233.1" font-size="4.3" fill="#909090" text-anchor="middle">10<tspan dy="-1.6" font-size="3.01">3</tspan></text>
<line x1="419.3" y1="253.4" x2="421.3" y2="253.4" stroke="#909090" stroke-width="0.6" />
<text x="415.3" y="254.9" font-size="4.3" fill="#909090" text-anchor="middle">10<tspan dy="-1.6" font-size="3.01">2</tspan></text>
<line x1="419.3" y1="264" x2="421.3" y2="264" stroke="#909090" stroke-width="0.6" />
<text x="417.3" y="265.5" font-size="4.3" font-weight="normal" text-anchor="end" fill="#909090" >0</text>
<path d="M421.3,183.8h-1.2M421.3,186.0h-1.2M421.3,188.2h-1.2M421.3,190.4h-1.2M421.3,192.6h-1.2M421.3,194.8h-1.2M421.3,197.0h-1.2M421.3,199.2h-1.2M421.3,201.4h-1.2M421.3,203.6h-1.2M421.3,205.8h-1.2M421.3,208.0h-1.2M421.3,210.2h-1.2M421.3,212.4h-1.2M421.3,214.6h-1.2M421.3,216.8h-1.2M421.3,219.0h-1.2M421.3,221.2h-1.2M421.3,223.4h-1.2M421.3,225.6h-1.2M421.3,227.8h-1.2M421.3,230.0h-1.2M421.3,232.2h-1.2M421.3,234.4h-1.2M421.3,236.6h-1.2M421.3,238.8h-1.2M421.3,241.0h-1.2M421.3,243.2h-1.2M421.3,245.4h-1.2M421.3,247.6h-1.2M421.3,249.8h-1.2M421.3,252.0h-1.2M421.3,254.2h-1.2M421.3,256.4h-1.2M421.3,258.6h-1.2M421.3,260.8h-1.2M421.3,263.0h-1.2M421.3,265.2h-1.2M421.3,267.4h-1.2M421.3,269.6h-1.2M421.3,271.8h-1.2" stroke="#909090" stroke-width="0.5"/>
<text x="432.6" y="281.3" font-size="4.3" font-weight="normal" text-anchor="middle" fill="#909090" >0</text>
<text x="440" y="281.3" font-size="4.3" fill="#909090" text-anchor="middle">10<tspan dy="-1.6" font-size="3.01">2</tspan></text>
<text x="464.2" y="281.3" font-size="4.3" fill="#909090" text-anchor="middle">10<tspan dy="-1.6" font-size="3.01">3</tspan></text>
<text x="484.2" y="281.3" font-size="4.3" fill="#909090" text-anchor="middle">10<tspan dy="-1.6" font-size="3.01">4</tspan></text>
<text x="505.5" y="281.3" font-size="4.3" fill="#909090" text-anchor="middle">10<tspan dy="-1.6" font-size="3.01">5</tspan></text>
<path d="M424.3,273.8v1.2M426.3,273.8v1.2M428.3,273.8v1.2M430.3,273.8v1.2M432.3,273.8v1.2M434.3,273.8v1.2M436.3,273.8v1.2M438.3,273.8v1.2M440.3,273.8v1.2M442.3,273.8v1.2M444.3,273.8v1.2M446.3,273.8v1.2M448.3,273.8v1.2M450.3,273.8v1.2M452.3,273.8v1.2M454.3,273.8v1.2M456.3,273.8v1.2M458.3,273.8v1.2M460.3,273.8v1.2M462.3,273.8v1.2M464.3,273.8v1.2M466.3,273.8v1.2M468.3,273.8v1.2M470.3,273.8v1.2M472.3,273.8v1.2M474.3,273.8v1.2M476.3,273.8v1.2M478.3,273.8v1.2M480.3,273.8v1.2M482.3,273.8v1.2M484.3,273.8v1.2M486.3,273.8v1.2M488.3,273.8v1.2M490.3,273.8v1.2M492.3,273.8v1.2M494.3,273.8v1.2M496.3,273.8v1.2M498.3,273.8v1.2M500.3,273.8v1.2M502.3,273.8v1.2M504.3,273.8v1.2M506.3,273.8v1.2M508.3,273.8v1.2M510.3,273.8v1.2M512.3,273.8v1.2" stroke="#909090" stroke-width="0.5"/>
<path d="M345.4,199.1h0.7M352.0,213.3h0.7M346.5,198.0h0.7M346.4,211.1h0.7M350.3,197.8h0.7M348.7,212.1h0.7M348.7,218.1h0.7M349.4,206.1h0.7M350.6,200.8h0.7M348.5,207.8h0.7M348.3,204.6h0.7M347.2,209.4h0.7M350.1,214.5h0.7M343.5,195.5h0.7M346.7,197.3h0.7M346.1,197.1h0.7M346.7,201.9h0.7M354.1,211.6h0.7M346.3,205.6h0.7M347.5,206.7h0.7M351.9,206.9h0.7M352.1,210.2h0.7M353.6,219.2h0.7M350.0,211.6h0.7M352.2,212.9h0.7M350.9,213.6h0.7M349.2,216.0h0.7M351.3,207.3h0.7M348.8,212.5h0.7M352.8,217.7h0.7M348.3,211.1h0.7M348.7,209.1h0.7M350.8,207.8h0.7M348.1,199.9h0.7M345.4,212.2h0.7M347.5,214.4h0.7M348.1,212.8h0.7M346.8,208.8h0.7M352.9,218.7h0.7M341.8,203.9h0.7M346.4,209.4h0.7M353.6,212.0h0.7M346.9,208.8h0.7M351.5,207.2h0.7M347.5,206.5h0.7M348.7,215.1h0.7M344.9,208.5h0.7M345.1,202.5h0.7M351.6,214.2h0.7M348.1,194.3h0.7M347.7,209.0h0.7M354.5,216.6h0.7M346.9,207.5h0.7M355.3,204.1h0.7M343.5,214.2h0.7M353.2,213.0h0.7M347.4,204.4h0.7M344.4,209.0h0.7M343.2,207.9h0.7M348.9,202.0h0.7M345.9,213.0h0.7M349.1,211.6h0.7M347.5,194.2h0.7M349.2,202.5h0.7M350.8,210.7h0.7M349.9,212.4h0.7M347.8,204.9h0.7M347.0,210.6h0.7M348.6,203.6h0.7M341.6,199.1h0.7M351.9,216.6h0.7M351.5,202.8h0.7M348.5,208.3h0.7M352.0,221.9h0.7M354.4,199.9h0.7M350.8,216.6h0.7M345.3,196.3h0.7M349.1,215.0h0.7M354.6,204.1h0.7M353.0,204.9h0.7M343.6,201.9h0.7M355.2,217.1h0.7M343.4,197.4h0.7M353.2,212.0h0.7M349.5,201.8h0.7M348.6,198.5h0.7M349.0,215.9h0.7M352.7,220.8h0.7M351.3,205.3h0.7M352.3,205.1h0.7M343.5,195.6h0.7M348.9,217.3h0.7M350.4,216.2h0.7M347.2,202.2h0.7M351.3,203.6h0.7M350.0,194.5h0.7M348.3,207.1h0.7M343.7,204.9h0.7M347.4,208.7h0.7M353.3,214.5h0.7M343.0,194.4h0.7M343.7,203.4h0.7M346.4,210.1h0.7M352.0,211.3h0.7M348.6,201.6h0.7M347.6,212.9h0.7M355.4,212.5h0.7M354.6,201.2h0.7M346.8,206.8h0.7M346.7,202.1h0.7M346.3,209.3h0.7M349.7,200.8h0.7M342.3,203.2h0.7M351.1,214.2h0.7M348.8,208.6h0.7M349.7,208.2h0.7M351.8,203.8h0.7M342.8,204.0h0.7M349.5,210.7h0.7M348.2,205.6h0.7M351.3,208.9h0.7M348.4,208.5h0.7M349.7,201.4h0.7M350.0,199.5h0.7M350.0,204.7h0.7M347.3,202.9h0.7M350.6,214.6h0.7M350.3,205.6h0.7M345.9,206.8h0.7M351.4,203.5h0.7M349.7,197.6h0.7M343.0,198.5h0.7M350.1,209.2h0.7M353.3,216.3h0.7M347.8,212.7h0.7M350.4,195.4h0.7M344.4,201.5h0.7M354.7,214.7h0.7M351.8,213.7h0.7M349.6,203.9h0.7M353.4,203.4h0.7M350.5,199.3h0.7M343.6,211.9h0.7M346.8,195.1h0.7M341.3,202.2h0.7M351.9,210.3h0.7M348.9,213.7h0.7M347.3,195.7h0.7M348.3,205.4h0.7M350.0,207.6h0.7M350.8,207.8h0.7M342.7,202.2h0.7M348.1,209.8h0.7M346.3,196.2h0.7M354.0,211.5h0.7M351.9,214.1h0.7M349.9,209.6h0.7M345.7,209.4h0.7M343.5,205.5h0.7M350.0,201.0h0.7M353.1,210.9h0.7M345.4,205.2h0.7M344.2,211.9h0.7M351.6,214.8h0.7M348.5,202.7h0.7M347.4,199.0h0.7M348.8,205.6h0.7M351.6,214.8h0.7M343.1,198.0h0.7M348.1,199.4h0.7M349.5,205.8h0.7M347.6,200.1h0.7M354.5,221.2h0.7M345.2,207.0h0.7M347.9,212.6h0.7M346.8,201.3h0.7M345.9,211.4h0.7M350.3,210.0h0.7M349.4,207.1h0.7M347.2,209.2h0.7M350.5,204.1h0.7M344.0,202.1h0.7M348.2,216.4h0.7M347.9,213.4h0.7M346.8,207.5h0.7M347.4,199.8h0.7M345.3,202.6h0.7M348.0,203.0h0.7M345.6,210.8h0.7M350.0,200.9h0.7M353.4,211.6h0.7M351.2,209.6h0.7M353.8,204.9h0.7M351.5,211.4h0.7M341.1,202.6h0.7M339.9,214.5h0.7M350.5,209.5h0.7M344.3,209.0h0.7M347.4,207.2h0.7M352.3,209.8h0.7M350.4,207.5h0.7M344.0,199.3h0.7M349.7,211.5h0.7M352.9,199.3h0.7M349.9,210.2h0.7M345.9,195.6h0.7M346.1,196.8h0.7M348.0,208.2h0.7M348.7,208.6h0.7M347.8,199.0h0.7M348.5,203.4h0.7M347.4,209.3h0.7M350.1,209.5h0.7M350.2,223.0h0.7M344.6,196.2h0.7M344.9,204.3h0.7M347.1,199.8h0.7M348.8,206.0h0.7M353.0,201.6h0.7M346.7,210.9h0.7M351.6,205.7h0.7M347.5,208.8h0.7M348.5,205.8h0.7M354.6,215.6h0.7M353.3,201.8h0.7M349.6,201.7h0.7M349.0,200.0h0.7M352.6,218.9h0.7M342.2,208.0h0.7M353.7,205.2h0.7M352.2,209.0h0.7M355.3,217.0h0.7M352.3,201.8h0.7M351.9,206.9h0.7M349.7,206.3h0.7M344.9,203.6h0.7M350.3,213.3h0.7M350.2,200.1h0.7M342.3,210.7h0.7M350.2,203.3h0.7M350.7,201.5h0.7M347.6,200.3h0.7M351.4,216.6h0.7M352.5,202.3h0.7M349.2,208.4h0.7M349.7,197.9h0.7M345.7,207.5h0.7M349.3,211.4h0.7M347.2,205.1h0.7M342.4,208.6h0.7M347.8,199.1h0.7M351.8,215.3h0.7M351.5,216.5h0.7M350.1,207.7h0.7M349.0,197.0h0.7M350.9,222.4h0.7M347.1,211.8h0.7M346.8,211.6h0.7M348.9,205.0h0.7M351.6,213.3h0.7M347.0,197.9h0.7M346.0,203.8h0.7M350.5,201.3h0.7M343.6,206.0h0.7M348.2,206.8h0.7M347.9,207.3h0.7M346.4,214.3h0.7M341.8,197.0h0.7M349.7,206.7h0.7M353.6,223.0h0.7M349.5,220.8h0.7M345.5,200.5h0.7M350.5,211.9h0.7M351.6,204.8h0.7M352.8,219.1h0.7M348.9,204.1h0.7M349.6,201.1h0.7M348.0,207.9h0.7M348.1,203.5h0.7M344.7,198.1h0.7M346.8,202.1h0.7M348.6,200.5h0.7M352.6,207.5h0.7M350.7,205.9h0.7M347.6,218.8h0.7M353.3,207.9h0.7M346.0,204.1h0.7M351.2,202.6h0.7M348.8,198.4h0.7M350.7,206.6h0.7M340.7,209.3h0.7M355.0,218.1h0.7M349.1,209.4h0.7M345.5,206.9h0.7M349.1,204.5h0.7M348.4,204.4h0.7M348.8,216.2h0.7M347.6,197.6h0.7M344.9,202.3h0.7M346.6,209.2h0.7" stroke="#333" stroke-width="0.7" opacity="0.75"/>
<path d="M350.9,218.0h0.7M337.5,195.7h0.7M352.2,211.3h0.7M351.4,198.6h0.7M344.5,200.0h0.7M352.2,203.4h0.7M349.1,222.7h0.7M342.5,209.0h0.7M350.9,220.5h0.7M344.6,203.4h0.7M337.9,219.1h0.7M337.6,194.6h0.7M347.3,207.0h0.7M349.7,201.3h0.7M351.5,194.4h0.7M340.3,212.5h0.7M337.6,201.4h0.7M350.5,213.5h0.7M341.7,196.4h0.7M343.2,214.5h0.7M343.3,195.6h0.7M350.2,209.6h0.7M354.4,221.1h0.7M354.3,205.6h0.7M352.1,201.4h0.7M342.4,204.4h0.7M354.7,219.7h0.7M341.0,203.2h0.7M343.3,203.3h0.7M343.9,204.0h0.7M339.9,209.5h0.7M351.9,208.8h0.7M352.7,209.4h0.7M339.5,215.5h0.7M353.6,200.7h0.7M336.4,208.0h0.7M346.9,209.6h0.7M355.3,212.2h0.7M352.1,194.0h0.7M346.9,216.4h0.7M337.7,194.5h0.7M350.7,219.9h0.7M337.7,211.7h0.7M338.9,215.1h0.7M349.0,199.6h0.7M340.4,215.7h0.7M346.4,215.7h0.7M343.9,202.5h0.7M355.4,212.8h0.7M345.9,208.7h0.7M350.4,214.0h0.7M354.3,204.7h0.7M352.5,212.7h0.7M353.1,217.0h0.7M352.7,219.5h0.7M355.2,211.8h0.7M346.5,214.0h0.7M352.0,205.1h0.7M344.4,196.5h0.7M350.8,222.7h0.7M343.5,197.2h0.7M340.1,205.2h0.7M341.8,222.1h0.7M337.2,201.6h0.7M338.3,212.1h0.7M351.5,197.6h0.7M337.2,206.2h0.7M347.7,220.2h0.7M336.7,195.4h0.7M339.7,198.7h0.7" stroke="#555" stroke-width="0.7" opacity="0.6"/>
<path d="M351.1,229.2h0.7M355.7,221.5h0.7M353.8,230.3h0.7M352.4,234.9h0.7M351.3,223.4h0.7M359.4,230.6h0.7M358.2,233.8h0.7M354.1,220.7h0.7M358.8,229.3h0.7M354.1,216.3h0.7M356.6,223.0h0.7M357.2,237.2h0.7M358.9,223.5h0.7M354.6,230.1h0.7M352.9,224.4h0.7M359.5,233.9h0.7M351.7,226.5h0.7M353.1,236.8h0.7M358.6,243.6h0.7M361.8,235.6h0.7M355.5,233.4h0.7M356.6,225.9h0.7M353.2,217.1h0.7M358.7,238.2h0.7M358.4,231.4h0.7M358.9,228.7h0.7M356.8,230.3h0.7M357.8,229.5h0.7M354.5,216.3h0.7M352.6,237.2h0.7M352.6,224.5h0.7M355.6,234.0h0.7M351.9,213.3h0.7M350.4,219.0h0.7M355.0,234.4h0.7M360.4,232.6h0.7M356.9,235.7h0.7M357.3,225.0h0.7M355.1,217.6h0.7M357.8,228.5h0.7M356.1,221.2h0.7M351.4,219.5h0.7M352.5,225.1h0.7M350.8,217.2h0.7M353.5,227.1h0.7M357.9,225.6h0.7M358.8,237.6h0.7M357.9,225.2h0.7M357.0,228.6h0.7M355.0,229.7h0.7M358.5,220.0h0.7M353.5,231.4h0.7M360.0,232.6h0.7M355.4,232.6h0.7M354.7,229.8h0.7M354.3,224.2h0.7M358.5,235.0h0.7M353.4,214.0h0.7M361.3,227.7h0.7M352.6,221.3h0.7M355.0,225.7h0.7M350.7,216.2h0.7M359.0,242.6h0.7M357.7,219.8h0.7M356.7,235.0h0.7M350.6,220.6h0.7M355.0,234.2h0.7M352.8,211.2h0.7M360.2,231.9h0.7M352.8,236.1h0.7M359.4,235.9h0.7M351.5,221.2h0.7M353.5,236.6h0.7M357.8,237.7h0.7M360.3,222.3h0.7M350.1,235.3h0.7M356.1,222.6h0.7M355.5,233.0h0.7M355.3,214.3h0.7M351.8,221.0h0.7M353.1,240.7h0.7M354.4,215.7h0.7M355.1,220.3h0.7M360.1,231.3h0.7M353.9,239.7h0.7M351.8,228.4h0.7M357.7,229.5h0.7M355.2,223.5h0.7M356.2,232.6h0.7M356.8,222.4h0.7M358.4,219.2h0.7M351.2,218.7h0.7M356.1,227.4h0.7M352.9,230.7h0.7M354.3,232.9h0.7M355.3,221.8h0.7M354.5,220.0h0.7M355.2,219.5h0.7M355.8,225.3h0.7M356.5,224.3h0.7M358.7,238.5h0.7M353.2,218.0h0.7M356.8,216.6h0.7M360.6,226.8h0.7M362.2,235.3h0.7M352.3,219.3h0.7M354.7,208.7h0.7M354.1,216.1h0.7M354.4,225.9h0.7M361.2,222.9h0.7M359.2,224.9h0.7M358.0,226.6h0.7M355.6,224.0h0.7M354.5,234.3h0.7M353.9,218.0h0.7M356.5,240.3h0.7M354.6,220.4h0.7M352.1,224.4h0.7M354.5,227.5h0.7M358.9,217.0h0.7M350.3,213.2h0.7M351.2,230.5h0.7M354.8,208.8h0.7M354.9,240.5h0.7M354.4,235.4h0.7M355.6,227.3h0.7M353.1,227.8h0.7M354.3,225.7h0.7M361.3,239.4h0.7M352.6,220.6h0.7M355.5,224.6h0.7M351.6,223.9h0.7M354.0,221.1h0.7M357.6,231.5h0.7M358.7,231.0h0.7M354.2,221.6h0.7M352.2,231.5h0.7M351.1,234.7h0.7M355.8,231.1h0.7M357.8,225.3h0.7" stroke="#444" stroke-width="0.7" opacity="0.7"/>
<path d="M360.8,239.3h0.7M358.6,212.9h0.7M358.4,241.8h0.7M355.3,210.8h0.7M352.7,219.1h0.7M358.5,215.1h0.7M352.2,216.5h0.7M358.0,236.5h0.7M354.5,231.8h0.7M360.6,229.2h0.7M352.7,218.8h0.7M361.1,232.0h0.7M353.3,231.0h0.7M351.1,243.4h0.7M355.3,227.0h0.7M356.4,209.6h0.7M357.2,218.2h0.7M353.0,236.9h0.7M351.0,218.3h0.7M359.1,216.9h0.7M353.3,227.7h0.7M352.2,240.3h0.7M361.9,209.2h0.7M355.5,235.0h0.7M354.6,241.5h0.7M356.0,214.5h0.7M356.7,231.2h0.7M354.3,231.7h0.7M359.4,226.6h0.7M356.1,238.4h0.7M358.2,226.7h0.7M361.4,214.3h0.7M359.4,213.9h0.7M357.3,216.5h0.7M355.3,235.8h0.7" stroke="#555" stroke-width="0.7" opacity="0.6"/>
<path d="M352.0,184.0h0.7M349.0,235.8h0.7M350.4,238.3h0.7M345.3,215.0h0.7M335.0,198.7h0.7M329.8,198.9h0.7M350.4,224.3h0.7M359.6,217.4h0.7M338.1,222.8h0.7M346.5,247.1h0.7M367.6,232.3h0.7M336.6,205.5h0.7M349.9,202.2h0.7M353.2,227.3h0.7M356.4,219.1h0.7M339.2,199.8h0.7M346.8,238.9h0.7M363.7,232.6h0.7M351.6,227.2h0.7M356.2,238.3h0.7M356.6,187.4h0.7M357.5,221.9h0.7" stroke="#777" stroke-width="0.7" opacity="0.5"/>
<rect x="335.7" y="191.5" width="20.8" height="32.2" fill="none" stroke="#8c8c8c" stroke-width="0.8" rx="1"/>
<rect x="349.3" y="207.9" width="13.5" height="36.3" fill="none" stroke="#8c8c8c" stroke-width="0.8" rx="1"/>
<text x="373.3" y="199.3" font-size="10" font-weight="bold" text-anchor="end" fill="#000"  stroke="#000" stroke-width="0.3">61</text>
<text x="377.3" y="235.9" font-size="10" font-weight="bold" text-anchor="end" fill="#000"  stroke="#000" stroke-width="0.3">30</text>
<path d="M452.2,211.2h0.7M455.9,206.6h0.7M446.1,207.9h0.7M457.3,206.6h0.7M446.6,210.7h0.7M458.1,208.4h0.7M456.6,204.2h0.7M451.2,211.2h0.7M452.7,208.5h0.7M455.2,194.0h0.7M455.0,213.1h0.7M451.0,205.1h0.7M451.5,212.5h0.7M461.3,205.7h0.7M459.4,209.0h0.7M453.5,204.8h0.7M450.2,217.3h0.7M458.9,199.0h0.7M458.7,201.2h0.7M447.0,216.6h0.7M448.1,216.5h0.7M455.5,214.2h0.7M457.1,216.2h0.7M456.2,211.6h0.7M455.7,215.8h0.7M452.5,215.1h0.7M462.0,206.5h0.7M456.7,202.9h0.7M453.1,209.1h0.7M452.8,199.9h0.7M454.4,208.5h0.7M456.1,212.7h0.7M453.6,200.8h0.7M452.6,210.5h0.7M458.9,204.1h0.7M455.3,194.2h0.7M455.3,206.1h0.7M452.3,214.1h0.7M450.6,219.2h0.7M452.8,206.7h0.7M451.6,210.6h0.7M457.3,208.2h0.7M453.5,205.9h0.7M452.5,214.8h0.7M451.9,205.8h0.7M453.5,201.0h0.7M453.4,195.3h0.7M456.5,211.3h0.7M453.0,219.4h0.7M450.4,211.4h0.7M456.9,202.7h0.7M453.3,214.1h0.7M454.8,209.3h0.7M461.5,208.7h0.7M446.2,201.1h0.7M458.7,206.0h0.7M456.1,219.0h0.7M457.0,202.7h0.7M453.0,204.4h0.7M450.0,210.5h0.7M459.1,209.9h0.7M451.7,215.3h0.7M454.0,211.6h0.7M449.9,212.2h0.7M458.2,217.3h0.7M454.6,210.5h0.7M451.6,214.0h0.7M458.4,215.6h0.7M452.6,197.3h0.7M454.2,205.4h0.7M450.8,211.8h0.7M459.2,210.1h0.7M460.0,210.1h0.7M449.7,202.4h0.7M452.8,212.4h0.7M459.1,208.1h0.7M459.5,200.5h0.7M453.9,218.8h0.7M456.7,215.3h0.7M450.2,215.0h0.7M462.5,202.1h0.7M449.6,199.0h0.7M450.1,211.4h0.7M453.0,221.8h0.7M458.1,201.6h0.7M455.7,205.8h0.7M458.4,214.2h0.7M452.8,214.1h0.7M457.3,206.3h0.7M455.8,212.4h0.7M452.9,201.7h0.7M460.8,207.1h0.7M451.6,210.7h0.7M447.3,207.5h0.7M447.8,203.7h0.7M458.9,205.6h0.7M448.5,220.7h0.7M451.4,218.7h0.7M451.9,195.5h0.7M463.6,203.6h0.7M458.3,216.4h0.7M448.1,207.6h0.7M451.7,211.8h0.7M454.5,197.1h0.7M454.8,213.0h0.7M453.1,211.5h0.7M451.9,206.6h0.7M456.2,208.2h0.7M460.8,214.5h0.7M458.7,212.7h0.7M455.3,197.9h0.7M459.7,220.7h0.7M455.6,205.1h0.7M454.4,216.5h0.7M455.9,199.4h0.7M453.7,201.0h0.7M453.5,200.0h0.7M450.3,218.7h0.7M459.7,194.5h0.7M449.7,203.6h0.7M452.6,196.2h0.7M458.9,194.4h0.7M457.9,212.5h0.7M452.7,201.9h0.7M454.8,208.2h0.7M457.1,206.2h0.7M452.5,199.3h0.7M451.1,201.1h0.7M462.0,210.8h0.7M455.6,208.6h0.7M452.7,219.6h0.7M457.0,206.8h0.7M453.9,208.6h0.7M449.0,204.6h0.7M451.5,211.9h0.7M457.5,192.5h0.7M453.5,214.8h0.7M448.2,197.8h0.7M459.4,206.1h0.7M452.3,197.6h0.7M455.4,202.7h0.7M455.6,210.4h0.7M458.0,204.5h0.7M452.0,207.3h0.7M454.1,208.4h0.7M452.0,205.2h0.7M451.7,202.5h0.7M455.3,216.1h0.7M451.9,211.6h0.7M456.2,207.9h0.7M457.9,202.7h0.7M457.3,209.4h0.7M457.5,222.4h0.7M449.4,207.8h0.7M456.3,199.5h0.7M460.4,210.6h0.7M450.6,197.7h0.7M454.0,202.1h0.7M457.5,207.8h0.7M455.9,209.1h0.7M449.2,217.4h0.7M452.3,215.9h0.7M457.9,207.4h0.7M455.2,206.7h0.7M456.6,194.4h0.7M447.2,215.5h0.7M458.5,194.9h0.7M456.8,206.7h0.7M459.3,204.5h0.7M453.4,201.2h0.7M455.4,206.1h0.7M451.3,204.3h0.7M450.8,212.0h0.7M449.5,194.8h0.7M449.8,215.6h0.7M452.0,212.1h0.7M458.1,203.0h0.7M458.2,211.0h0.7M454.3,201.5h0.7M454.2,197.0h0.7M453.2,202.5h0.7M456.7,209.7h0.7M451.4,213.9h0.7M460.4,207.6h0.7M450.9,211.0h0.7M457.4,222.8h0.7M450.9,219.1h0.7M455.5,215.0h0.7M453.6,202.2h0.7M453.4,218.9h0.7M458.7,204.7h0.7M456.4,213.9h0.7M457.3,206.7h0.7M451.3,201.2h0.7M452.4,202.7h0.7M446.7,195.8h0.7M458.9,198.2h0.7M448.0,206.7h0.7M452.5,198.8h0.7M451.9,199.8h0.7M451.8,210.8h0.7M449.2,200.8h0.7M453.2,206.8h0.7M450.7,200.8h0.7M448.9,201.0h0.7M457.1,205.1h0.7M454.2,200.1h0.7M446.3,216.3h0.7M450.9,207.3h0.7M458.4,197.2h0.7M463.2,201.3h0.7M456.3,197.8h0.7M456.3,206.9h0.7M459.9,197.8h0.7M454.5,221.5h0.7M448.6,209.8h0.7M456.7,203.0h0.7M453.2,218.3h0.7M460.2,211.5h0.7M455.8,198.0h0.7M455.0,221.3h0.7M459.8,196.2h0.7M455.3,202.6h0.7M453.0,209.7h0.7M459.0,208.7h0.7M460.8,195.6h0.7M456.8,210.4h0.7M447.1,217.0h0.7M446.5,195.4h0.7M456.4,217.9h0.7M460.3,198.0h0.7M456.9,218.2h0.7M453.7,207.6h0.7M452.2,212.9h0.7M451.7,202.3h0.7M448.4,199.6h0.7M455.6,210.8h0.7M452.6,198.6h0.7M456.2,209.9h0.7M460.9,203.0h0.7M452.4,211.1h0.7M462.2,206.6h0.7M454.1,199.5h0.7M452.6,214.6h0.7M458.8,216.0h0.7M446.3,213.8h0.7M449.9,211.8h0.7M450.1,217.3h0.7M455.1,217.5h0.7M452.3,222.9h0.7M452.3,222.3h0.7M452.1,199.1h0.7M459.0,203.8h0.7M454.2,196.2h0.7M452.8,207.9h0.7M450.9,210.2h0.7M452.4,218.9h0.7M452.7,201.7h0.7M452.2,209.2h0.7M457.5,203.3h0.7M450.5,210.5h0.7M458.7,192.9h0.7M449.2,201.6h0.7M458.5,211.0h0.7M448.9,216.1h0.7M452.3,200.6h0.7M464.3,195.3h0.7M461.5,208.6h0.7M449.9,208.5h0.7M450.2,208.5h0.7M451.2,197.4h0.7M459.5,206.6h0.7M457.9,196.8h0.7M459.6,210.6h0.7M448.6,213.8h0.7M455.7,214.4h0.7M457.6,213.3h0.7M454.4,203.7h0.7M458.1,217.0h0.7M448.6,197.8h0.7" stroke="#444" stroke-width="0.7" opacity="0.7"/>
<path d="M450.8,217.1h0.7M459.9,216.1h0.7M448.3,206.5h0.7M446.3,218.7h0.7M446.5,202.9h0.7M456.2,208.5h0.7M448.1,216.5h0.7M451.7,207.7h0.7M448.4,209.6h0.7M448.5,194.7h0.7M455.7,201.1h0.7M460.8,199.7h0.7M453.9,193.7h0.7M450.1,206.0h0.7M456.6,206.2h0.7M462.2,195.2h0.7M462.2,196.8h0.7M464.4,208.3h0.7M453.7,211.0h0.7M453.9,192.3h0.7M448.9,217.4h0.7M460.0,214.1h0.7M449.0,208.5h0.7M446.5,195.4h0.7M451.7,222.0h0.7M458.2,218.3h0.7M446.9,204.9h0.7M447.5,200.1h0.7M448.1,220.5h0.7M452.2,207.2h0.7M458.4,219.5h0.7M464.0,209.6h0.7M455.5,220.0h0.7M453.5,201.3h0.7M460.0,200.0h0.7M453.0,205.3h0.7M455.1,203.1h0.7M454.2,206.0h0.7M446.9,217.9h0.7M447.2,208.4h0.7M456.4,204.4h0.7M450.2,195.1h0.7M453.1,201.7h0.7M455.2,199.1h0.7M460.2,207.1h0.7M446.2,204.6h0.7M464.4,192.2h0.7M457.3,221.8h0.7M452.9,210.5h0.7M453.0,201.3h0.7M457.6,210.3h0.7M452.0,207.4h0.7M455.8,215.4h0.7M447.0,194.9h0.7M450.8,200.4h0.7M461.1,205.2h0.7M462.3,204.5h0.7M451.4,213.1h0.7M447.6,222.5h0.7M461.8,202.2h0.7M452.0,217.4h0.7M461.0,211.9h0.7M447.1,215.7h0.7M446.9,211.4h0.7M456.5,220.7h0.7M458.1,192.7h0.7M457.0,192.2h0.7M460.0,205.0h0.7M458.9,222.5h0.7M463.4,194.3h0.7M460.8,205.7h0.7M460.3,203.7h0.7M454.5,205.5h0.7M448.2,201.9h0.7M460.0,194.2h0.7M448.2,217.9h0.7M458.7,209.0h0.7M448.2,195.7h0.7M451.9,221.6h0.7M456.6,220.6h0.7" stroke="#666" stroke-width="0.7" opacity="0.55"/>
<path d="M441.6,210.0h0.7M436.3,204.3h0.7M444.6,211.7h0.7M440.4,206.2h0.7M438.8,207.6h0.7M438.4,197.8h0.7M437.2,206.2h0.7M437.7,210.5h0.7M444.2,210.0h0.7M442.7,210.6h0.7M441.7,209.5h0.7M442.2,209.2h0.7M438.5,203.4h0.7M438.5,209.4h0.7M442.3,202.8h0.7M438.5,203.7h0.7" stroke="#777" stroke-width="0.7" opacity="0.55"/>
<path d="M455.9,235.1h0.7M453.5,230.5h0.7M453.7,248.9h0.7M452.5,233.2h0.7M457.8,241.9h0.7M451.5,244.8h0.7M451.2,240.6h0.7M448.4,228.0h0.7M456.0,231.3h0.7M452.4,236.5h0.7M454.0,232.3h0.7M452.5,250.5h0.7M457.3,238.7h0.7M451.5,231.8h0.7M453.4,240.0h0.7M457.6,231.9h0.7M454.3,232.6h0.7M454.3,230.5h0.7M454.9,245.4h0.7M453.1,233.4h0.7M454.3,225.5h0.7M458.0,225.3h0.7" stroke="#888" stroke-width="0.7" opacity="0.55"/>
<polygon points="445.4,191.5 465.8,191.5 465.8,208.3 459.4,223.4 445.4,223.4" fill="none" stroke="#8c8c8c" stroke-width="0.8" />
<polygon points="465.8,208.3 472.6,208.3 472.6,244.2 459.4,244.2 459.4,223.4" fill="none" stroke="#8c8c8c" stroke-width="0.8" />
<text x="483.4" y="199.2" font-size="10" font-weight="bold" text-anchor="end" fill="#000"  stroke="#000" stroke-width="0.3">84</text>
<text x="479.6" y="235.8" font-size="10" font-weight="bold" text-anchor="end" fill="#000"  stroke="#000" stroke-width="0.3">1</text>
<polygon points="292.9,182.9 288.5,195.8 292.9,192.8 297.29999999999995,195.8" fill="#000" stroke="none" stroke-width="1" />
<line x1="292.9" y1="194" x2="292.9" y2="239" stroke="#888" stroke-width="0.9" />
<text x="0" y="0" font-size="10.5" font-weight="bold" text-anchor="start" fill="#000" transform="translate(296.7,274.3) rotate(-90)" stroke="#000" stroke-width="0.3">CD11b</text>
<text x="314.9" y="294.4" font-size="10" font-weight="bold" text-anchor="start" fill="#000"  stroke="#000" stroke-width="0.3">IRF4</text>
<line x1="344.4" y1="289.0" x2="497" y2="289.0" stroke="#888" stroke-width="0.9" />
<polygon points="508.8,289.3 494.6,285.1 497.8,289.3 494.6,293.5" fill="#000" stroke="none" stroke-width="1" />
<line x1="53.7" y1="296.3" x2="53.7" y2="401.8" stroke="#000" stroke-width="1.3" />
<line x1="53.7" y1="401.1" x2="209.9" y2="401.1" stroke="#000" stroke-width="1.3" />
<line x1="50.8" y1="296.7" x2="53.7" y2="296.7" stroke="#000" stroke-width="1.1" />
<text x="49.8" y="300.09999999999997" font-size="9.5" font-weight="normal" text-anchor="end" fill="#000"  stroke="#000" stroke-width="0.12">600</text>
<line x1="50.8" y1="331.5" x2="53.7" y2="331.5" stroke="#000" stroke-width="1.1" />
<text x="49.8" y="334.9" font-size="9.5" font-weight="normal" text-anchor="end" fill="#000"  stroke="#000" stroke-width="0.12">400</text>
<line x1="50.8" y1="366.3" x2="53.7" y2="366.3" stroke="#000" stroke-width="1.1" />
<text x="49.8" y="369.7" font-size="9.5" font-weight="normal" text-anchor="end" fill="#000"  stroke="#000" stroke-width="0.12">200</text>
<line x1="50.8" y1="401.1" x2="53.7" y2="401.1" stroke="#000" stroke-width="1.1" />
<text x="49.8" y="404.5" font-size="9.5" font-weight="normal" text-anchor="end" fill="#000"  stroke="#000" stroke-width="0.12">0</text>
<line x1="92.4" y1="401.1" x2="92.4" y2="403.4" stroke="#000" stroke-width="1.0" />
<line x1="171" y1="401.1" x2="171" y2="403.4" stroke="#000" stroke-width="1.0" />
<rect x="68.2" y="306.7" width="20.7" height="94.4" fill="#000" stroke="none" stroke-width="1" />
<rect x="96.5" y="399.2" width="20.5" height="1.4" fill="#222" stroke="none" stroke-width="1" />
<rect x="146.4" y="349.8" width="20.3" height="51.3" fill="#000" stroke="none" stroke-width="1" />
<rect x="176.1" y="375.5" width="18.8" height="25.6" fill="#fff" stroke="#000" stroke-width="1.7" />
<rect x="152" y="300.3" width="13.9" height="8.5" fill="#000" stroke="none" stroke-width="1" />
<rect x="152.9" y="316.5" width="12.1" height="6.0" fill="#fff" stroke="#000" stroke-width="1.8" />
<text x="170.6" y="307.9" font-size="9.6" font-weight="normal" text-anchor="start" fill="#000"  stroke="#000" stroke-width="0.12">Vehicle</text>
<text x="170.6" y="322.7" font-size="9.6" font-weight="normal" text-anchor="start" fill="#000"  stroke="#000" stroke-width="0.12">ICI</text>
<text x="0" y="0" font-size="9.9" font-weight="normal" text-anchor="start" fill="#000" transform="translate(30.6,385.2) rotate(-90)" stroke="#000" stroke-width="0.12">MFI IRF4 binding</text>
<text x="59.6" y="415.4" font-size="10.2" fill="#000" stroke="#000" stroke-width="0.12">CD11b</text>
<text x="91.6" y="412.2" font-size="6.6" fill="#000" stroke="#000" stroke-width="0.12">lo</text>
<text x="99.6" y="415.4" font-size="10.3" fill="#000" stroke="#000" stroke-width="0.12">Ly6C</text>
<text x="123.9" y="410.4" font-size="6.5" fill="#000" stroke="#000" stroke-width="0.12">-</text>
<text x="136.2" y="415.4" font-size="10.2" fill="#000" stroke="#000" stroke-width="0.12">CD11b</text>
<text x="169.0" y="412.2" font-size="6.6" fill="#000" stroke="#000" stroke-width="0.12">hi</text>
<text x="177.0" y="415.4" font-size="10.3" fill="#000" stroke="#000" stroke-width="0.12">Ly6C</text>
<text x="201.2" y="411.4" font-size="7" fill="#000" stroke="#000" stroke-width="0.12">+</text>
</svg>
</body></html>
